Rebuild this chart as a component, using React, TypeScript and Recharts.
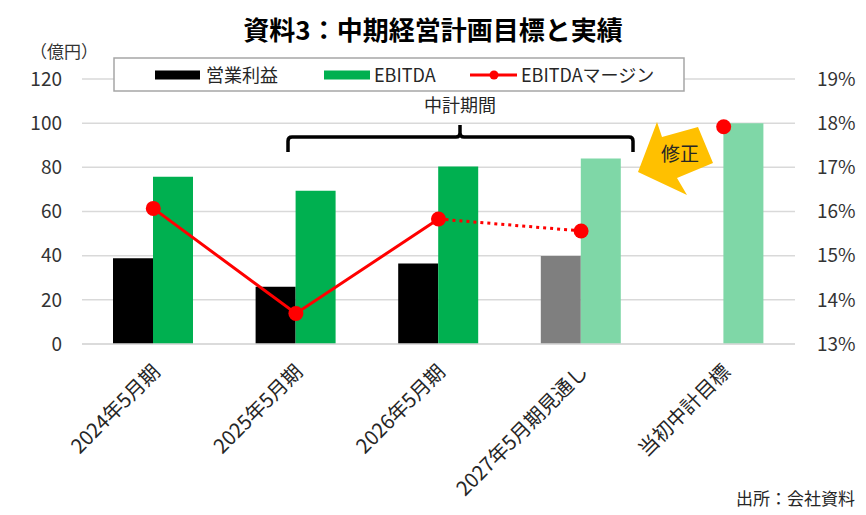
import React from 'react';
import { ComposedChart, Bar, Line, XAxis, YAxis, CartesianGrid, Cell } from 'recharts';

document.body.style.margin = '0';

/* Data */
const categories = ['2024年5月期', '2025年5月期', '2026年5月期', '2027年5月期見通し', '当初中計目標'];
const operatingProfit = [38.8, 25.9, 36.5, 39.8, null];
const ebitda = [75.7, 69.4, 80.4, 84.0, 100];
const marginActual = [16.07, 13.69, 15.83, null, null];
const marginForecast = [null, null, 15.83, 15.56, null];
const marginPoints = [16.07, 13.69, 15.83, 15.56, 17.92];

const leftTicks = [0, 20, 40, 60, 80, 100, 120];
const rightTicks = [13, 14, 15, 16, 17, 18, 19];

const C = {
  black: '#000000',
  green: '#00B050',
  gray: '#7F7F7F',
  paleGreen: '#7FD7A7',
  red: '#FF0000',
  grid: '#D9D9D9',
  ink: '#262626',
  tick: '#333333',
  arrow: '#FFC000',
  frame: '#A6A6A6',
};

const opColors = [C.black, C.black, C.black, C.gray, C.gray];
const ebitdaColors = [C.green, C.green, C.green, C.paleGreen, C.paleGreen];

const FONT = "'Noto Sans CJK JP', 'Noto Sans', sans-serif";

const data = categories.map((name, i) => ({
  name,
  op: operatingProfit[i],
  ebitda: ebitda[i],
  marginActual: marginActual[i],
  marginForecast: marginForecast[i],
  marginPoint: marginPoints[i],
}));

const numTick = { fontSize: 19, fill: C.tick, fontFamily: FONT };

function CategoryTick(props: any) {
  const { x, y, payload } = props;
  const ax = x + 8;
  const ay = y + 29;
  return (
    <text
      x={ax}
      y={ay}
      transform={`rotate(-45, ${ax}, ${ay})`}
      textAnchor="end"
      fontSize={20}
      fill={C.ink}
      fontFamily={FONT}
    >
      {payload.value}
    </text>
  );
}

/* title, legend box, bracket and arrow drawn on top of the plot */
function Overlay() {
  return (
    <svg
      width={866}
      height={515}
      style={{ position: 'absolute', left: 0, top: 0, pointerEvents: 'none' }}
      fontFamily={FONT}
    >
      <text x={433} y={40} textAnchor="middle" fontSize={26} fontWeight="bold" fill="#000">
        資料3：中期経営計画目標と実績
      </text>
      <text x={30} y={58} fontSize={17} fill={C.tick}>（億円）</text>

      {/* legend */}
      <rect x={114} y={58} width={570} height={33} fill="#FFFFFF" stroke={C.frame} strokeWidth={1.5} />
      <rect x={155} y={70.5} width={45} height={9} fill={C.black} />
      <text x={206} y={81.5} fontSize={18} fill={C.ink}>営業利益</text>
      <rect x={324} y={70.5} width={46} height={9} fill={C.green} />
      <text x={374} y={81.5} fontSize={18} fill={C.ink}>EBITDA</text>
      <line x1={470} y1={75} x2={517} y2={75} stroke={C.red} strokeWidth={3} />
      <circle cx={494} cy={75} r={4.5} fill={C.red} />
      <text x={521} y={81.5} fontSize={18} fill={C.ink}>EBITDAマージン</text>

      {/* mid-term plan bracket */}
      <text x={460} y={112} textAnchor="middle" fontSize={18} fill={C.ink}>中計期間</text>
      <path
        d="M288 152 V141 Q288 137 292 137 H456 Q460 137 460 133 V125 M460 133 Q460 137 464 137 H629 Q633 137 633 141 V152"
        fill="none"
        stroke="#000"
        strokeWidth={3.5}
      />

      {/* revision arrow */}
      <polygon points="638,172 657,122 662,137 698,127 713,163 677,178 687,195" fill={C.arrow} />
      <text x={680} y={161} textAnchor="middle" fontSize={19} fill={C.ink}>修正</text>

      <text x={855} y={505} textAnchor="end" fontSize={17} fill={C.ink}>出所：会社資料</text>
    </svg>
  );
}

export default function App() {
  return (
    <div style={{ position: 'relative', width: 866, height: 515, background: '#FFFFFF' }}>
      <ComposedChart
        width={866}
        height={515}
        data={data}
        margin={{ top: 79, right: 0, bottom: 141, left: 0 }}
        barCategoryGap={31}
        barGap={0}
      >
        <CartesianGrid yAxisId="left" vertical={false} stroke={C.grid} strokeWidth={1.5} />
        <XAxis
          dataKey="name"
          interval={0}
          height={30}
          tickSize={0}
          tickMargin={0}
          tickLine={false}
          axisLine={{ stroke: C.grid, strokeWidth: 1.5 }}
          tick={(p: any) => <CategoryTick {...p} />}
        />
        <YAxis
          yAxisId="left"
          domain={[0, 120]}
          ticks={leftTicks}
          width={82}
          tickSize={0}
          tickMargin={20}
          axisLine={false}
          tickLine={false}
          tick={numTick}
        />
        <YAxis
          yAxisId="right"
          orientation="right"
          domain={[13, 19]}
          ticks={rightTicks}
          width={71}
          tickSize={0}
          tickMargin={22}
          axisLine={false}
          tickLine={false}
          tick={numTick}
          tickFormatter={(v) => `${v}%`}
        />
        <Bar yAxisId="left" dataKey="op" isAnimationActive={false}>
          {data.map((_, i) => (
            <Cell key={i} fill={opColors[i]} />
          ))}
        </Bar>
        <Bar yAxisId="left" dataKey="ebitda" isAnimationActive={false}>
          {data.map((_, i) => (
            <Cell key={i} fill={ebitdaColors[i]} />
          ))}
        </Bar>
        <Line
          yAxisId="right"
          dataKey="marginActual"
          stroke={C.red}
          strokeWidth={3}
          dot={false}
          activeDot={false}
          isAnimationActive={false}
        />
        <Line
          yAxisId="right"
          dataKey="marginForecast"
          stroke={C.red}
          strokeWidth={3}
          strokeDasharray="3 4"
          dot={false}
          activeDot={false}
          isAnimationActive={false}
        />
        <Line
          yAxisId="right"
          dataKey="marginPoint"
          stroke="none"
          dot={{ r: 7.5, fill: C.red, stroke: C.red, strokeWidth: 0 }}
          activeDot={false}
          isAnimationActive={false}
        />
      </ComposedChart>
      <Overlay />
    </div>
  );
}
